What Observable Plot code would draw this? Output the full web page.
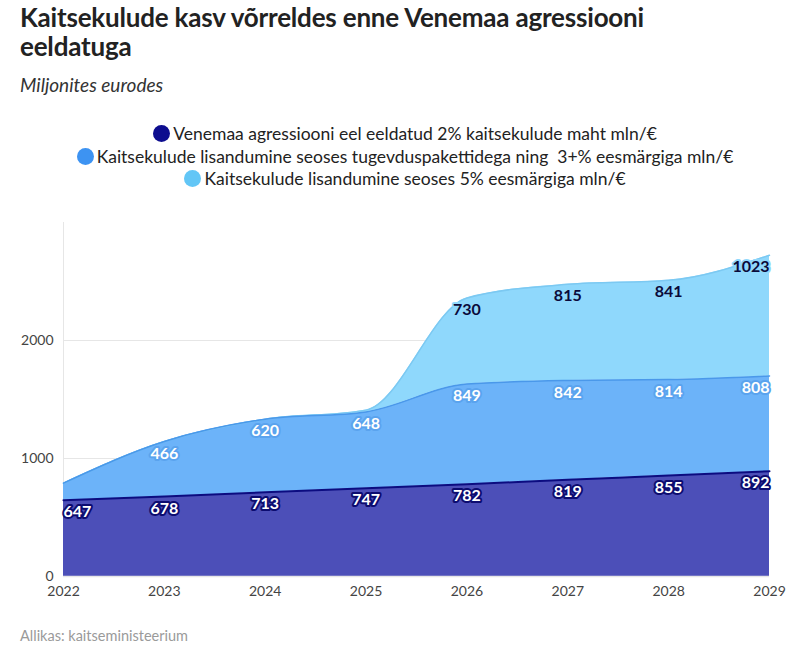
<!DOCTYPE html>
<html>
<head>
<meta charset="utf-8">
<script src="https://cdn.jsdelivr.net/npm/d3@7"></script>
<script src="https://cdn.jsdelivr.net/npm/@observablehq/plot@0.6"></script>
<style>
  body { margin: 0; background: #fff; font-family: Lato, "Noto Sans", sans-serif; width: 810px; height: 656px; position: relative; overflow: hidden; }
  #title { position: absolute; left: 20px; top: 3px; width: 680px; font-size: 26px; font-weight: 700; line-height: 29px; color: #222; letter-spacing: -0.2px; }
  #subtitle { position: absolute; left: 20px; top: 73px; font-size: 19px; font-style: italic; color: #333; }
  #legend { position: absolute; left: 0; top: 123px; width: 810px; text-align: center; font-size: 17.5px; color: #222; line-height: 22.5px; }
  #legend .it { display: block; }
  #legend .dot { display: inline-block; width: 17px; height: 17px; border-radius: 50%; vertical-align: -2px; margin-right: 3px; }
  #chart { position: absolute; left: 0; top: 200px; }
  #caption { position: absolute; left: 20px; top: 627px; font-size: 14.5px; color: #9a9a9a; }
</style>
</head>
<body>
<div id="title">Kaitsekulude kasv võrreldes enne Venemaa agressiooni eeldatuga</div>
<div id="subtitle">Miljonites eurodes</div>
<div id="legend"></div>
<div id="chart"></div>
<div id="caption">Allikas: kaitseministeerium</div>
<script>
const years = [2022, 2023, 2024, 2025, 2026, 2027, 2028, 2029];
const base2pct = [647, 678, 713, 747, 782, 819, 855, 892];
const packages3pct = [144, 466, 620, 648, 849, 842, 814, 808];
const target5pct = [0, 0, 0, 15, 730, 815, 841, 1023];

const seriesNames = [
  "Venemaa agressiooni eel eeldatud 2% kaitsekulude maht mln/€",
  "Kaitsekulude lisandumine seoses tugevduspakettidega ning  3+% eesmärgiga mln/€",
  "Kaitsekulude lisandumine seoses 5% eesmärgiga mln/€"
];
const fills = ["#4c4fb8", "#6cb3f9", "#8fd8fc"];
const lineColors = ["#0c0c80", "#4a98ea", "#7cc9f2"];
const dotColors = ["#0d0d8f", "#3d93f2", "#62c6f6"];
const labelFill = ["#ffffff", "#ffffff", "#0a0a3a"];
const labelStroke = ["#0c0c70", "#5aa3ee", "#8fd8fc"];
const yTicks = [0, 1000, 2000];

const seriesValues = [base2pct, packages3pct, target5pct];

// legend
const leg = document.getElementById("legend");
seriesNames.forEach((n, i) => {
  const s = document.createElement("span");
  s.className = "it";
  s.innerHTML = `<span class="dot" style="background:${dotColors[i]}"></span>` + n.replace(/  /g, "&nbsp; ");
  leg.appendChild(s);
});

// table
const rows = [];
seriesValues.forEach((vals, si) => {
  years.forEach((yr, i) => {
    rows.push({ year: yr, value: vals[i], series: si });
  });
});

// cumulative tops for labels and lines
const tops = [];
years.forEach((yr, i) => {
  let cum = 0;
  seriesValues.forEach((vals, si) => {
    cum += vals[i];
    tops.push({ year: yr, top: cum, value: vals[i], series: si });
  });
});
const labels = tops.filter(d => d.value > 200);
const first = years[0], last = years[years.length - 1];
const anchors = [
  ["start", d => d.year === first],
  ["middle", d => d.year !== first && d.year !== last],
  ["end", d => d.year === last]
];

const textMarks = [];
[0, 1, 2].forEach(si => {
  anchors.forEach(([anchor, test]) => {
    textMarks.push(Plot.text(labels.filter(d => d.series === si && test(d)), {
      x: "year", y: "top", dy: 12,
      text: d => String(d.value),
      textAnchor: anchor,
      fill: labelFill[si], stroke: labelStroke[si], strokeWidth: 4,
      fontSize: 16, fontWeight: 700
    }));
  });
});

const plot = Plot.plot({
  width: 810,
  height: 410,
  marginLeft: 63,
  marginRight: 41,
  marginTop: 22,
  marginBottom: 34,
  style: { fontFamily: "Lato, 'Noto Sans', sans-serif", fontSize: "14px", color: "#444", background: "transparent" },
  x: { domain: [2022, 2029], label: null },
  y: { domain: [0, 3000], label: null },
  marks: [
    Plot.ruleY(yTicks.slice(1), { stroke: "#e6e6e6", strokeWidth: 1 }),
    Plot.ruleX([2022], { stroke: "#e6e6e6", strokeWidth: 1 }),
    Plot.areaY(rows, {
      x: "year", y: "value", z: "series", order: null,
      fill: d => fills[d.series], curve: "monotone-x"
    }),
    ...[2, 1, 0].map(si => Plot.lineY(tops.filter(d => d.series === si), {
      x: "year", y: "top", stroke: lineColors[si], strokeWidth: si === 0 ? 2 : 1.5, curve: "monotone-x"
    })),
    Plot.ruleY([0], { stroke: "#e6e6e6", strokeWidth: 1.5 }),
    ...textMarks,
    Plot.axisY({ ticks: yTicks, tickSize: 0, tickPadding: 10, tickFormat: d => String(d), fill: "#444", fontSize: 14 }),
    Plot.axisX({ ticks: years, tickSize: 0, tickPadding: 10, tickFormat: d => String(d), fill: "#444", fontSize: 14 })
  ]
});
document.getElementById("chart").appendChild(plot);
</script>
</body>
</html>
